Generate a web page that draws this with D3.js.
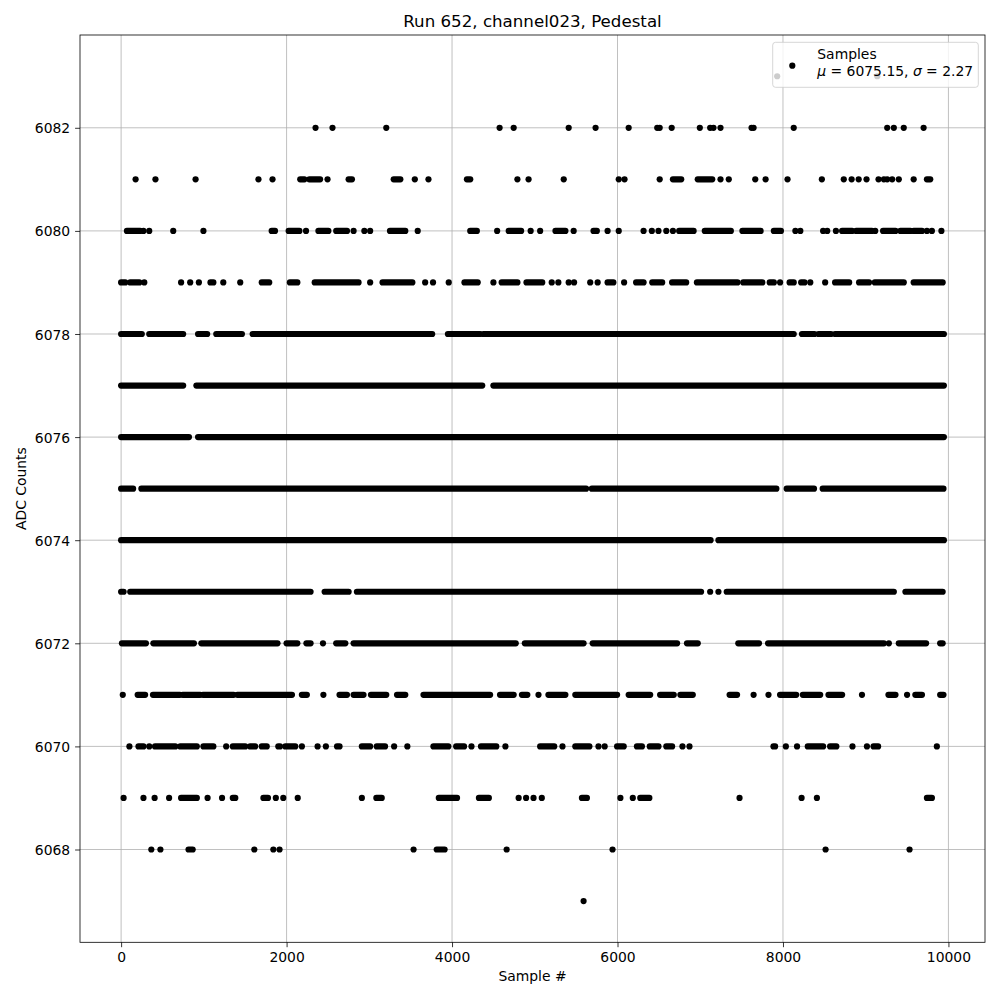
<!DOCTYPE html>
<html><head><meta charset="utf-8">
<script src="https://cdn.jsdelivr.net/npm/d3@7"></script>
<style>
body{margin:0;background:#fff}
text{font-family:"DejaVu Sans",sans-serif;fill:#000}
</style></head>
<body><svg id="chart" width="1000" height="1000"></svg>
<script>
const titleText = "Run 652, channel023, Pedestal";
const xLabelText = "Sample #";
const yLabelText = "ADC Counts";
const legendName = "Samples";
const legendMu = "6075.15";
const legendSigma = "2.27";
const xTicks = [0, 2000, 4000, 6000, 8000, 10000];
const yTicks = [6068, 6070, 6072, 6074, 6076, 6078, 6080, 6082];
const xDomain = [-497, 10442];
const yDomain = [6066.2, 6083.8];

// Each entry: [sample] for an isolated dot, [first, last] for a run of overlapping dots.
const lvl6083 = [[7930],[9140]];
const lvl6082 = [[2350],[2555],[3205],[4575],[4745],[5410],[5735],[6135],[6480],[6510],[6655],[6995],[7120],[7160],[7245],[7620],[7645],[8130],[9260],[9340],[9460],[9700]];
const lvl6081 = [[175],[415],[900],[1660],[1830],[2165,2215],[2275,2405],[2495],[2750,2790],[3295,3375],[3550],[3715],[4180,4220],[4790],[4925],[5350],[6015],[6085],[6510],[6670,6770],[6970,7145],[7245],[7345],[7665],[7790],[8055],[8470],[8735],[8830],[8915],[9010],[9155],[9220],[9260],[9320],[9400],[9580],[9740,9780]];
const lvl6080 = [[70,230],[270],[340],[630],[995],[1820,1860],[2025,2155],[2235],[2385,2505],[2600,2730],[2810],[2940],[3010],[3250,3435],[3585],[4220,4300],[4545],[4685,4835],[4950],[5065],[5250,5370],[5470],[5710,5750],[5880],[6015],[6315],[6415],[6495],[6590],[6670],[6745,6920],[7055,7370],[7510,7730],[7890,7975],[8150],[8210],[8485],[8535],[8640],[8715,8835],[8885,9075],[9115],[9210,9360],[9420,9540],[9580,9680],[9740],[9800],[9915]];
const lvl6079 = [[0,50],[110,220],[280],[725],[835],[940],[1080,1115],[1235],[1440],[1700,1790],[2040,2130],[2340,2870],[3010],[3160,3520],[3675],[3770],[3960],[4150,4310],[4500],[4600,4790],[4900,5090],[5205],[5285],[5410],[5475],[5670],[5760],[5880,5950],[6080],[6225,6315],[6420,6540],[6660,6830],[6960,7450],[7520,7750],[7840,7890],[7965],[8080,8130],[8220,8260],[8330],[8510],[8630,8800],[8920,9040],[9110,9460],[9580,9930]];
const lvl6078 = [[0,250],[340,750],[930,1040],[1150,1460],[1590,3760],[3950,4340],[4380,8130],[8230,8380],[8430,8580],[8630,9945]];
const lvl6077 = [[0,750],[910,4365],[4500,9945]];
const lvl6076 = [[0,820],[930,9945]];
const lvl6075 = [[0,145],[245,5620],[5690,7920],[8045,8375],[8480,9940]];
const lvl6074 = [[0,7125],[7220,9945]];
const lvl6073 = [[0,30],[110,2290],[2460,2750],[2850,7010],[7120],[7220],[7320,9340],[9480,9930]];
const lvl6072 = [[10,300],[390,880],[970,1890],[2000,2130],[2240,2290],[2440],[2600,2710],[2810,4770],[4880,5590],[5700,6720],[6840,6970],[7460,7710],[7820,9220],[9280],[9400,9730],[9900,9930]];
const lvl6071 = [[20],[200,290],[385,710],[745,955],[990,1360],[1405,2065],[2185,2245],[2445],[2640,2730],[2810,2930],[3020,3205],[3335,3435],[3655,4460],[4580,4745],[4845,4910],[5045],[5165,5370],[5490,5995],[6135,6395],[6515,6680],[6760,6910],[7355,7445],[7645],[7825],[7965,8160],[8240,8450],[8550,8715],[8955],[9275,9360],[9500],[9600,9680],[9900,9940]];
const lvl6070 = [[100],[210,270],[340],[410,655],[715,915],[995,1115],[1270],[1350,1500],[1560,1620],[1700,1760],[1900,1920],[1985,2105],[2185],[2375],[2475],[2610,2640],[2910,3010],[3090,3190],[3300],[3460],[3775,3955],[4050,4145],[4235],[4350,4535],[4645],[5065,5235],[5335],[5490,5660],[5770],[5845],[5995,6075],[6235,6295],[6390,6495],[6590,6660],[6785],[6870],[7885,7905],[8035],[8170],[8300,8485],[8570,8645],[8840],[9015],[9095,9150],[9860]];
const lvl6069 = [[30],[270],[405],[580],[725,915],[1045],[1220],[1350,1380],[1720,1775],[1870],[1960],[2135],[2910],[3085,3150],[3840,4060],[4325,4445],[4805],[4895],[4985],[5085],[5570,5630],[6035],[6185],[6275,6385],[7475],[8225],[8410],[9740,9800]];
const lvl6068 = [[365],[475],[815,865],[1610],[1840],[1915],[3535],[3815,3910],[4660],[5940],[8515],[9530]];
const lvl6067 = [[5590]];

const levelValues = [6067,6068,6069,6070,6071,6072,6073,6074,6075,6076,6077,6078,6079,6080,6081,6082,6083];
const levelRuns = [lvl6067,lvl6068,lvl6069,lvl6070,lvl6071,lvl6072,lvl6073,lvl6074,lvl6075,lvl6076,lvl6077,lvl6078,lvl6079,lvl6080,lvl6081,lvl6082,lvl6083];

const L = 80, R = 985, T = 35, B = 942.3;
const svg = d3.select("#chart");
const x = d3.scaleLinear().domain(xDomain).range([L, R]);
const y = d3.scaleLinear().domain(yDomain).range([B, T]);

// grid
const grid = svg.append("g").attr("stroke", "#b0b0b0").attr("stroke-width", 0.8);
grid.selectAll("line.gx").data(xTicks).join("line")
  .attr("x1", d => x(d)).attr("x2", d => x(d)).attr("y1", T).attr("y2", B);
grid.selectAll("line.gy").data(yTicks).join("line")
  .attr("x1", L).attr("x2", R).attr("y1", d => y(d)).attr("y2", d => y(d));

// data
const table = [];
levelValues.forEach((v, i) => levelRuns[i].forEach(r => table.push({v, a: r[0], b: r.length > 1 ? r[1] : r[0]})));
const dots = svg.append("g");
const rr = 3.1;
dots.selectAll("line").data(table.filter(d => d.b > d.a)).join("line")
  .attr("x1", d => x(d.a)).attr("x2", d => x(d.b))
  .attr("y1", d => y(d.v)).attr("y2", d => y(d.v))
  .attr("stroke", "#000").attr("stroke-width", rr * 2).attr("stroke-linecap", "round");
dots.selectAll("circle").data(table.filter(d => d.b === d.a)).join("circle")
  .attr("cx", d => x(d.a)).attr("cy", d => y(d.v)).attr("r", rr).attr("fill", "#000");

// axes
const fs = 13.9;
const xAxis = d3.axisBottom(x).tickValues(xTicks).tickSize(4.9).tickPadding(4.9).tickFormat(d3.format("d"));
const yAxis = d3.axisLeft(y).tickValues(yTicks).tickSize(4.9).tickPadding(4.9).tickFormat(d3.format("d"));
const gx = svg.append("g").attr("transform", `translate(0,${B})`).call(xAxis);
const gy = svg.append("g").attr("transform", `translate(${L},0)`).call(yAxis);
[gx, gy].forEach(g => {
  g.select(".domain").remove();
  g.selectAll(".tick line").attr("stroke", "#000").attr("stroke-width", 0.8);
  g.selectAll(".tick text").attr("font-size", fs).attr("font-family", "DejaVu Sans").attr("fill", "#000");
});
gx.selectAll(".tick text").attr("dy", "0.71em");
gy.selectAll(".tick text").attr("dy", "0.36em");

// frame
svg.append("rect").attr("x", L).attr("y", T).attr("width", R - L).attr("height", B - T)
  .attr("fill", "none").attr("stroke", "#000").attr("stroke-width", 0.8);

// labels
svg.append("text").attr("x", (L + R) / 2).attr("y", 26.7).attr("text-anchor", "middle")
  .attr("font-size", 16.67).text(titleText);
svg.append("text").attr("x", (L + R) / 2).attr("y", 981).attr("text-anchor", "middle")
  .attr("font-size", fs).text(xLabelText);
svg.append("text").attr("transform", `translate(26,${(T + B) / 2}) rotate(-90)`).attr("text-anchor", "middle")
  .attr("font-size", fs).text(yLabelText);

// legend
const lg = svg.append("g");
lg.append("rect").attr("x", 772.7).attr("y", 42.3).attr("width", 205.6).attr("height", 45)
  .attr("rx", 2.8).attr("fill", "#fff").attr("fill-opacity", 0.8)
  .attr("stroke", "#cccccc").attr("stroke-opacity", 0.8).attr("stroke-width", 1);
lg.append("circle").attr("cx", 792.3).attr("cy", 65.7).attr("r", rr).attr("fill", "#000");
lg.append("text").attr("x", 817.3).attr("y", 59.3).attr("font-size", fs).text(legendName);
const t2 = lg.append("text").attr("x", 817.3).attr("y", 76).attr("font-size", fs);
t2.append("tspan").attr("font-style", "italic").text("\u03bc");
t2.append("tspan").text(" = " + legendMu + ", ");
t2.append("tspan").attr("font-style", "italic").text("\u03c3");
t2.append("tspan").text(" = " + legendSigma);
</script>
</body></html>
